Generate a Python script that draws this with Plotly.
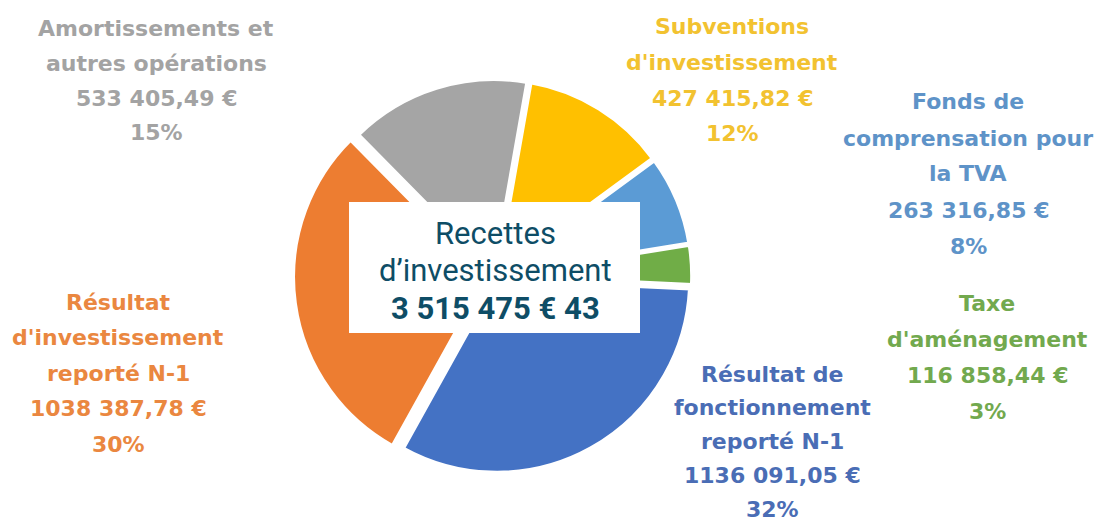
import plotly.graph_objects as go

W, H = 1095, 522

# ---- data ----
categories = [
    "Subventions d'investissement",
    "Fonds de comprensation pour la TVA",
    "Taxe d'aménagement",
    "Résultat de fonctionnement reporté N-1",
    "Résultat d'investissement reporté N-1",
    "Amortissements et autres opérations",
]
values = [427415.82, 263316.85, 116858.44, 1136091.05, 1038387.78, 533405.49]
name_lines = [
    ["Subventions", "d'investissement"],
    ["Fonds de", "comprensation pour", "la TVA"],
    ["Taxe", "d'aménagement"],
    ["Résultat de", "fonctionnement", "reporté N-1"],
    ["Résultat", "d'investissement", "reporté N-1"],
    ["Amortissements et", "autres opérations"],
]
amount_labels = ["427 415,82 €", "263 316,85 €", "116 858,44 €", "1136 091,05 €", "1038 387,78 €", "533 405,49 €"]
percent_labels = ["12%", "8%", "3%", "32%", "30%", "15%"]
center_title = ["Recettes", "d’investissement"]
center_total = "3 515 475 € 43"

# ---- styles / layout ----
slice_colors = ["#FFC000", "#5B9BD5", "#70AD47", "#4472C4", "#ED7D31", "#A5A5A5"]
text_colors = ["#F2C230", "#5E93C8", "#72A94E", "#4A6DB5", "#EA8740", "#A3A3A3"]
pulls = [0.02, 0.02, 0.02, 0.02, 0.045, 0.02]
# label block placement: (center x px, first line y px, line spacing px)
label_pos = [
    (732, 27, 35.5),
    (968, 102, 36),
    (987, 303, 36),
    (772, 374, 33.8),
    (118, 302, 35.5),
    (156, 28, 35),
]


def px(x):
    return x / W


def py(y):
    return 1 - y / H


fig = go.Figure()
fig.add_trace(go.Pie(
    labels=categories,
    values=values,
    sort=False,
    direction="clockwise",
    rotation=10,
    pull=pulls,
    marker=dict(colors=slice_colors, line=dict(color="white", width=4)),
    textinfo="none",
    hoverinfo="label+value+percent",
    showlegend=False,
    domain=dict(x=[px(293), px(697)], y=[py(478), py(74)]),
))

annotations = []
for i in range(len(categories)):
    lines = name_lines[i] + [amount_labels[i], percent_labels[i]]
    cx, y0, dy = label_pos[i]
    for k, t in enumerate(lines):
        annotations.append(dict(
            x=px(cx), y=py(y0 + k * dy), xref="paper", yref="paper",
            text=t, showarrow=False, xanchor="center", yanchor="middle",
            font=dict(family="DejaVu Sans", size=22, color=text_colors[i], weight="bold"),
        ))

center_color = "#0E4D66"
for k, t in enumerate(center_title):
    annotations.append(dict(
        x=px(495), y=py(233 + k * 37.5), xref="paper", yref="paper",
        text=t, showarrow=False, xanchor="center", yanchor="middle",
        font=dict(family="Roboto", size=31, color=center_color),
    ))
annotations.append(dict(
    x=px(495), y=py(308), xref="paper", yref="paper",
    text=center_total, showarrow=False, xanchor="center", yanchor="middle",
    font=dict(family="Roboto", size=31, color=center_color, weight="bold"),
))

fig.update_layout(
    width=W, height=H,
    margin=dict(l=0, r=0, t=0, b=0),
    paper_bgcolor="white", plot_bgcolor="white",
    shapes=[dict(type="rect", xref="paper", yref="paper",
                 x0=px(349), x1=px(640), y0=py(333), y1=py(202),
                 fillcolor="white", line=dict(width=0), layer="above")],
    annotations=annotations,
)

fig.write_html("out.html", config={"displayModeBar": False},
               post_script="document.body.style.margin='0';document.body.style.overflow='hidden';")
